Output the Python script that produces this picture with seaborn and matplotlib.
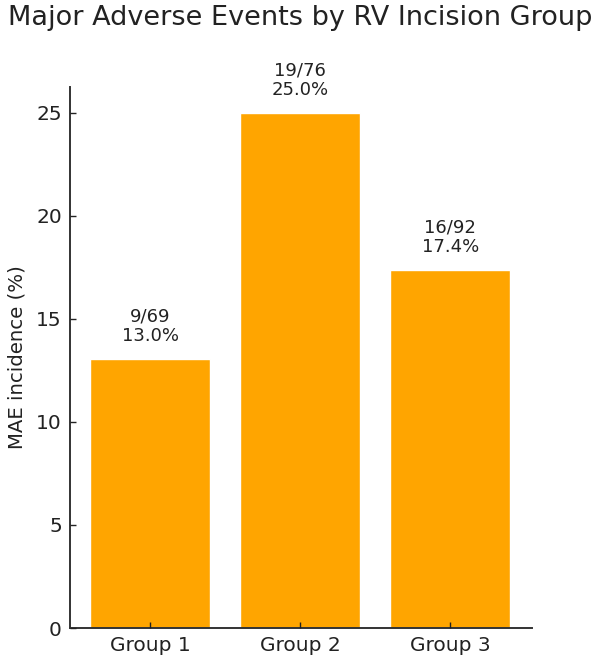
import pandas as pd
import matplotlib
matplotlib.use("Agg")
import matplotlib.pyplot as plt
import seaborn as sns

# data
groups = ["Group 1", "Group 2", "Group 3"]
events = [9, 19, 16]
totals = [69, 76, 92]
incidence = [13.04, 25.0, 17.39]

df = pd.DataFrame({"group": groups, "incidence": incidence})

sns.set_style("white")
plt.rcParams["font.family"] = ["DejaVu Sans"]

fig = plt.figure(figsize=(6, 6.59), dpi=100)
ax = fig.add_axes([0.117, 0.047, 0.770, 0.821])
sns.barplot(data=df, x="group", y="incidence", color="#FFA500",
            saturation=1, width=0.8, ax=ax)

for i, (e, t, v) in enumerate(zip(events, totals, incidence)):
    ax.annotate(f"{e}/{t}\n{v:.1f}%", (i, v), xytext=(0, 10),
                textcoords="offset points", ha="center", va="bottom",
                fontsize=13, color="#222222", linespacing=1.1)

ax.set_xlim(-0.533, 2.547)
ax.set_ylim(0, 26.25)
ax.set_axisbelow(False)
ax.set_xlabel("")
ax.set_ylabel("MAE incidence (%)", fontsize=14.2, color="#222222", labelpad=7)
ax.tick_params(axis="both", labelsize=14.5, colors="#222222", direction="in",
               length=4.5, width=1, left=True, bottom=True, pad=6)
sns.despine(ax=ax)
for s in ["left", "bottom"]:
    ax.spines[s].set_color("#333333")
    ax.spines[s].set_linewidth(1.4)
fig.suptitle("Major Adverse Events by RV Incision Group", fontsize=19.5,
             color="#222222", x=0.5, y=0.993, va="top")

fig.savefig("out.png", dpi=100)
